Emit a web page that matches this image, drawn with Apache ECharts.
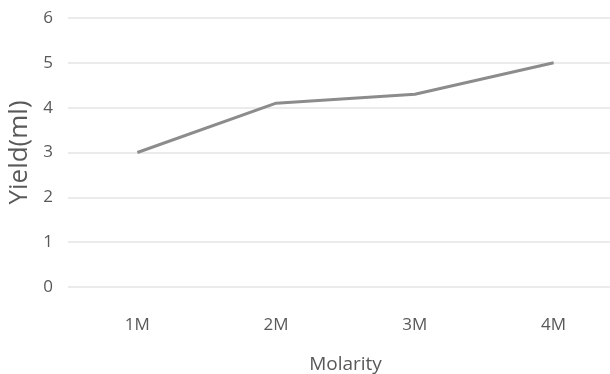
<!DOCTYPE html>
<html><head><meta charset="utf-8">
<script src="https://cdn.jsdelivr.net/npm/echarts@6/dist/echarts.min.js"></script>
<style>html,body{margin:0;padding:0;background:#fff}#c{width:610px;height:374px}</style>
</head><body><div id="c"></div>
<script>
const categories = ['1M', '2M', '3M', '4M'];
const yieldValues = [3, 4.1, 4.3, 5];
const yTicks = [0, 1, 2, 3, 4, 5, 6];

const font = '"Open Sans", sans-serif';
const chart = echarts.init(document.getElementById('c'), null, {renderer: 'canvas'});
chart.setOption({
  animation: false,
  backgroundColor: '#ffffff',
  grid: {left: 68, width: 555, top: 18, height: 269, containLabel: false, outerBoundsMode: 'none'},
  xAxis: {
    type: 'category',
    data: categories,
    boundaryGap: true,
    axisLine: {show: false},
    axisTick: {show: false},
    axisLabel: {color: '#595959', fontSize: 17, fontFamily: font, margin: 30},
    name: 'Molarity',
    nameLocation: 'middle',
    nameGap: 68.5,
    nameTextStyle: {color: '#595959', fontSize: 19, fontFamily: font}
  },
  yAxis: {
    type: 'value',
    min: yTicks[0],
    max: yTicks[yTicks.length - 1],
    interval: 1,
    axisLine: {show: false},
    axisTick: {show: false},
    splitLine: {lineStyle: {color: '#e4e4e4', width: 1.5}},
    axisLabel: {color: '#595959', fontSize: 17, fontFamily: font, margin: 15},
    name: 'Yield(ml)',
    nameLocation: 'middle',
    nameGap: 21,
    nameRotate: 90,
    nameTextStyle: {color: '#595959', fontSize: 26, fontFamily: font}
  },
  series: [{
    type: 'line',
    data: yieldValues,
    symbol: 'none',
    lineStyle: {color: '#8c8c8c', width: 3}
  }]
});
</script></body></html>
